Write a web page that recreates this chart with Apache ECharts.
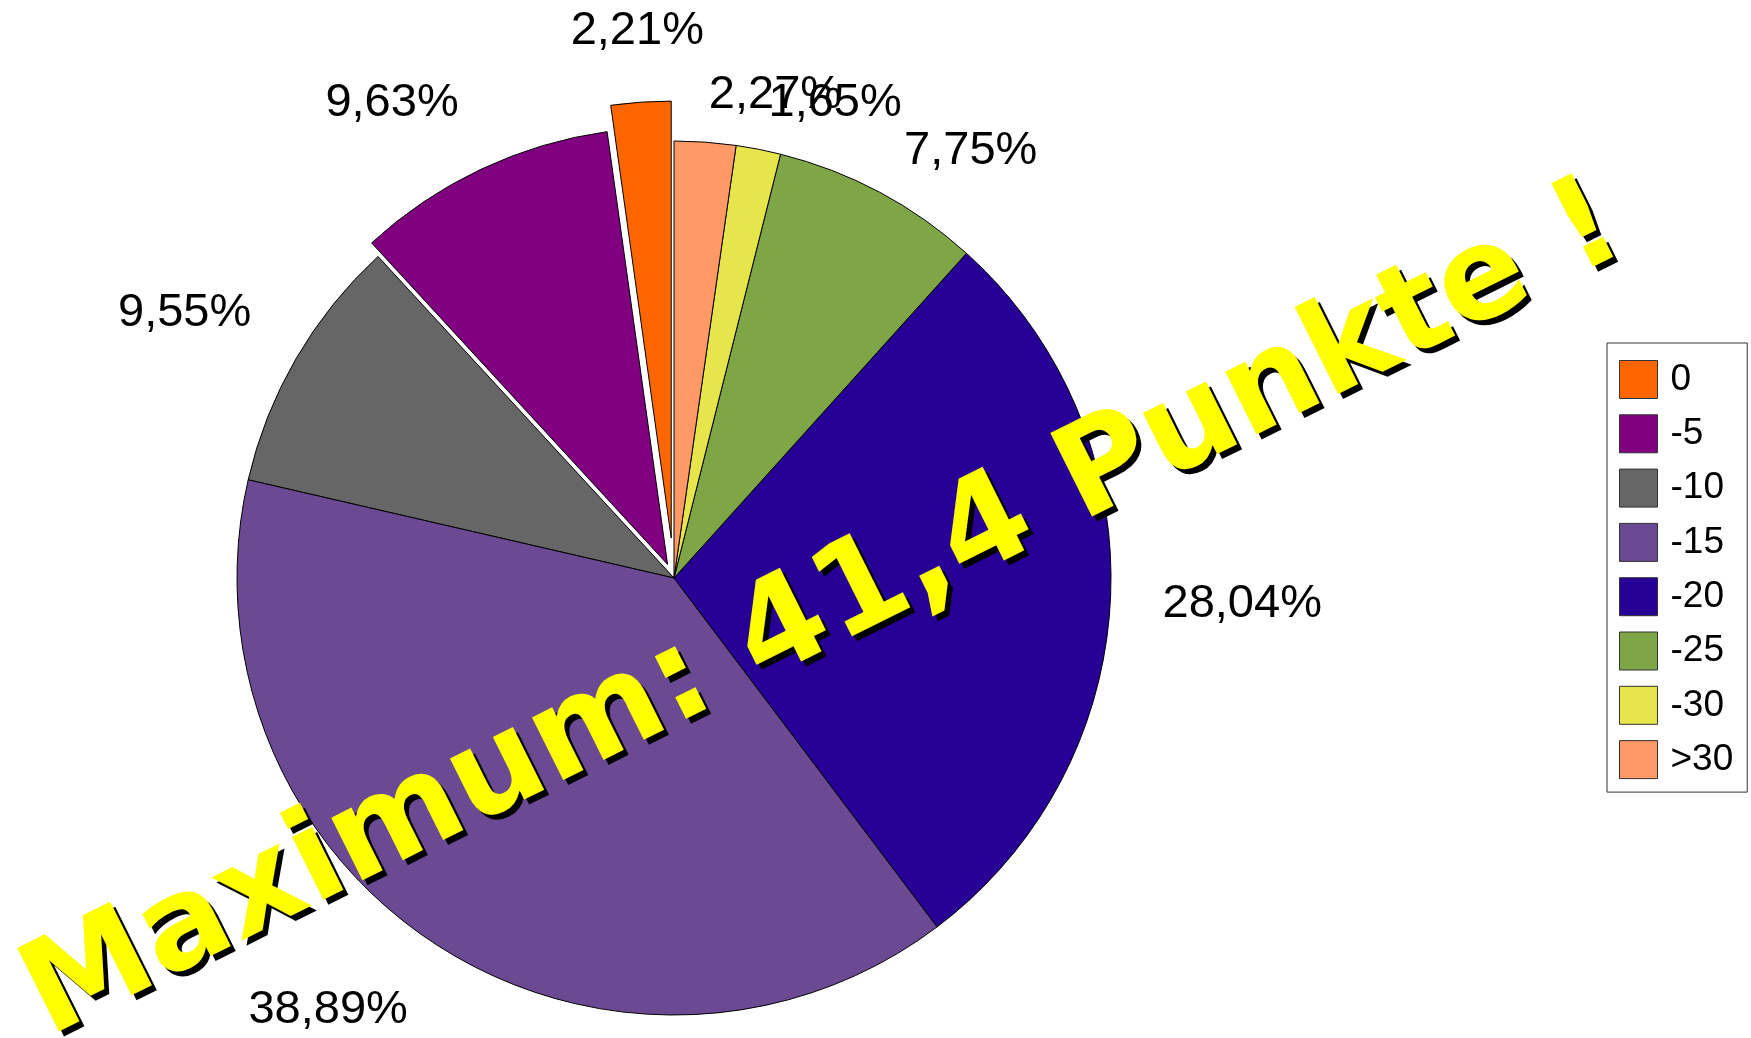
<!DOCTYPE html>
<html><head><meta charset="utf-8">
<script src="https://cdn.jsdelivr.net/npm/echarts@6/dist/echarts.min.js"></script>
<style>html,body{margin:0;padding:0;background:#fff}#c{width:1751px;height:1038px}</style>
</head><body><div id="c"></div>
<script>
// ---- data ----
const categories = ['0', '-5', '-10', '-15', '-20', '-25', '-30', '>30'];
const shares = [2.21, 9.63, 9.55, 38.89, 28.04, 7.75, 1.65, 2.27];
const colors = ['#FF6600', '#800080', '#666666', '#6B4A93', '#270096', '#7EA646', '#E6E64C', '#FF9966'];
const explode = [40, 15, 0, 0, 0, 0, 0, 0];
const titleText = 'Maximum: 41,4 Punkte !';

// ---- layout constants ----
const CX = 674, CY = 578, R = 437, GAP = 52;
const LABEL_FONT = 47;
const START_ANGLE = 90;

function fmt(v) { return v.toFixed(2).replace('.', ',') + '%'; }

function labelLayout(p) {
  const pts = p.labelLinePoints;
  if (!pts) return {};
  const dx = pts[1][0] - pts[0][0], dy = pts[1][1] - pts[0][1];
  const len = Math.hypot(dx, dy) || 1;
  const ux = dx / len, uy = dy / len;
  const px = pts[0][0] + ux * GAP, py = pts[0][1] + uy * GAP;
  if (ux > 0) {
    return { x: px, y: py + 5, align: 'left', verticalAlign: 'middle' };
  }
  if (ux > -0.2) {
    return { x: px, y: py + 4, align: 'center', verticalAlign: 'bottom' };
  }
  if (uy < 0) {
    return { x: px, y: py + 4, align: 'right', verticalAlign: 'bottom' };
  }
  return { x: px, y: py - 2, align: 'right', verticalAlign: 'top' };
}

// exploded slices: each drawn by its own pie series whose centre is pushed
// out along the slice's mid angle (derived from the shares)
const total = shares.reduce(function (a, b) { return a + b; }, 0);
function midAngleRad(i) {
  let before = 0;
  for (let k = 0; k < i; k++) before += shares[k];
  return (START_ANGLE + (before + shares[i] / 2) / total * 360) * Math.PI / 180;
}

const groups = [];
explode.forEach(function (off, i) {
  if (off > 0) groups.push([i]);
});
groups.push(explode.map(function (o, i) { return o > 0 ? -1 : i; }).filter(function (i) { return i >= 0; }));

const series = groups.map(function (members) {
  let center = [CX, CY];
  if (members.length === 1 && explode[members[0]] > 0) {
    const a = midAngleRad(members[0]), off = explode[members[0]];
    center = [CX + off * Math.cos(a), CY - off * Math.sin(a)];
  }
  return {
    type: 'pie',
    center: center,
    radius: R,
    startAngle: START_ANGLE,
    clockwise: false,
    selectedMode: false,
    avoidLabelOverlap: false,
    animation: false,
    silent: true,
    emphasis: { disabled: true },
    labelLine: { show: true, length: 10, length2: 0, lineStyle: { opacity: 0, width: 0 } },
    labelLayout: labelLayout,
    data: categories.map(function (c, i) {
      const mine = members.indexOf(i) >= 0;
      return {
        name: c,
        value: shares[i],
        itemStyle: mine
          ? { color: colors[i], borderColor: '#000', borderWidth: 1 }
          : { color: 'rgba(0,0,0,0)', borderWidth: 0 },
        label: mine
          ? { show: true, position: 'outside', formatter: fmt(shares[i]), fontFamily: 'Liberation Sans', fontSize: LABEL_FONT, color: '#000' }
          : { show: false },
        labelLine: mine ? {} : { show: false }
      };
    })
  };
});

const chart = echarts.init(document.getElementById('c'), null, { renderer: 'canvas' });
const rot = 26.5 * Math.PI / 180;
chart.setOption({
  backgroundColor: '#fff',
  animation: false,
  legend: {
    orient: 'vertical',
    left: 1607,
    top: 343,
    padding: [17, 14, 13, 12],
    itemWidth: 38,
    itemHeight: 38,
    itemGap: 15.3,
    icon: 'rect',
    selectedMode: false,
    borderColor: '#333',
    borderWidth: 1,
    backgroundColor: '#fff',
    itemStyle: { borderColor: '#333', borderWidth: 1 },
    textStyle: { fontFamily: 'Liberation Sans', fontSize: 37, color: '#000', padding: [0, 0, 0, 8] },
    data: categories.map(function (c, i) { return { name: c, itemStyle: { color: colors[i], borderColor: '#333', borderWidth: 1 } }; })
  },
  graphic: [
    {
      type: 'text', z: 100, x: 829, y: 618, rotation: rot, silent: true,
      style: { text: titleText, font: 'bold 128px "DejaVu Sans"', fill: '#000', align: 'center', verticalAlign: 'middle', textAlign: 'center', textVerticalAlign: 'middle' }
    },
    {
      type: 'text', z: 101, x: 824, y: 613, rotation: rot, silent: true,
      style: { text: titleText, font: 'bold 128px "DejaVu Sans"', fill: '#FFFF00', align: 'center', verticalAlign: 'middle', textAlign: 'center', textVerticalAlign: 'middle' }
    }
  ],
  series: series
});
</script></body></html>
